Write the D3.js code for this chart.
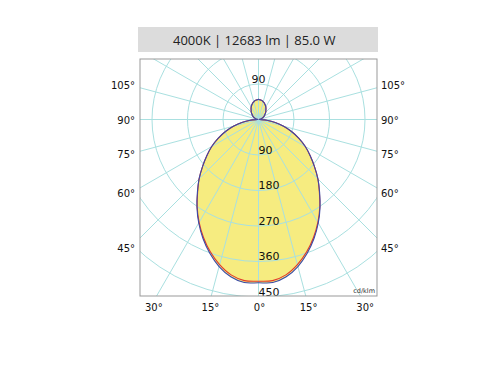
<!DOCTYPE html>
<html>
<head>
<meta charset="utf-8">
<script src="https://cdn.jsdelivr.net/npm/d3@7"></script>
<style>
  body { margin: 0; background: #fff; }
  svg { display: block; }
</style>
</head>
<body>
<div id="chart"></div>
<script>
// photometric data, gamma in degrees from nadir, intensity in cd/klm
const title = '4000K | 12683 lm | 85.0 W';
const gammas = d3.range(0, 181, 5);
const c0c180 = [410, 410, 400, 381, 357, 330, 301, 271, 240, 213, 185, 160, 137, 113, 89, 66, 43, 21, 3,
  2, 5, 7.5, 10, 13, 16, 19, 22, 26, 29, 33, 37, 40.5, 44, 46.5, 49, 50, 51];
const c90c270 = [414, 415, 405, 386, 361, 333, 303, 272, 241, 213, 185, 160, 137, 113, 89, 66, 43, 21, 3,
  2, 5, 7.5, 10, 13, 16, 19, 22, 26, 29, 33, 37, 40.5, 44, 46.5, 49, 50, 51];
const ringValues = [90, 180, 270, 360, 450, 540, 630];
const ringLabels = [90, 180, 270, 360, 450];
const spokeAngles = d3.range(0, 360, 15);
const sideLabels = [105, 90, 75, 60, 45];
const bottomLabels = [-30, -15, 0, 15, 30];

const width = 500, height = 370;
const frame = { x: 140, y: 59, w: 237, h: 237 };
const cx = frame.x + frame.w / 2;
const cy = frame.y + 60.5;

const svg = d3.select('#chart').append('svg')
  .attr('width', width)
  .attr('height', height);

// title bar
svg.append('rect')
  .attr('x', 138).attr('y', 27)
  .attr('width', 240).attr('height', 25)
  .attr('fill', '#dcdcdc');
svg.append('text')
  .attr('x', 173).attr('y', 44.5)
  .attr('font-family', 'Open Sans, sans-serif')
  .attr('font-size', 13)
  .attr('fill', '#222')
  .text(title);

const r = d3.scaleLinear().domain([0, 450]).range([0, 177.5]);

svg.append('clipPath').attr('id', 'clip')
  .append('rect')
  .attr('x', frame.x).attr('y', frame.y)
  .attr('width', frame.w).attr('height', frame.h);

const plot = svg.append('g').attr('clip-path', 'url(#clip)');
const g = plot.append('g').attr('transform', `translate(${cx},${cy})`);

// lobes: right half is C0 / C90, left half mirrored
function lobe(values) {
  const pts = [];
  gammas.forEach((gm, i) => pts.push([Math.PI - gm * Math.PI / 180, r(values[i])]));
  for (let i = gammas.length - 2; i > 0; i--) {
    pts.push([Math.PI + gammas[i] * Math.PI / 180, r(values[i])]);
  }
  return pts;
}
const radial = d3.lineRadial().curve(d3.curveCatmullRomClosed.alpha(0.5));

g.append('path').attr('d', radial(lobe(c90c270))).attr('fill', '#f6ec80');
g.append('path').attr('d', radial(lobe(c0c180))).attr('fill', '#f6ec80');

// grid
const gridColor = '#a9e0e0';
g.selectAll('circle.ring')
  .data(ringValues)
  .enter().append('circle')
  .attr('class', 'ring')
  .attr('r', d => r(d))
  .attr('fill', 'none')
  .attr('stroke', gridColor)
  .attr('stroke-width', 1);

g.selectAll('line.spoke')
  .data(spokeAngles)
  .enter().append('line')
  .attr('class', 'spoke')
  .attr('x1', 0).attr('y1', 0)
  .attr('x2', d => Math.sin(d * Math.PI / 180) * r(700))
  .attr('y2', d => Math.cos(d * Math.PI / 180) * r(700))
  .attr('stroke', gridColor)
  .attr('stroke-width', 1);

g.append('path').attr('d', radial(lobe(c0c180)))
  .attr('fill', 'none').attr('stroke', '#e0382c').attr('stroke-width', 1.1);
g.append('path').attr('d', radial(lobe(c90c270)))
  .attr('fill', 'none').attr('stroke', '#3a4aa8').attr('stroke-width', 1.1);

// ring labels
const labelFont = 'DejaVu Sans, sans-serif';
g.selectAll('text.rl')
  .data(ringLabels)
  .enter().append('text')
  .attr('class', 'rl')
  .attr('x', 0)
  .attr('y', d => r(d) - 1.5)
  .attr('text-anchor', 'start')
  .attr('font-family', labelFont)
  .attr('font-size', 11)
  .attr('fill', '#111')
  .text(d => d);
g.append('text')
  .attr('x', 0).attr('y', -r(90) - 1.5)
  .attr('text-anchor', 'middle')
  .attr('font-family', labelFont)
  .attr('font-size', 11)
  .attr('fill', '#111')
  .text(90);

svg.append('rect')
  .attr('x', frame.x).attr('y', frame.y)
  .attr('width', frame.w).attr('height', frame.h)
  .attr('fill', 'none').attr('stroke', '#999').attr('stroke-width', 1);

svg.append('text')
  .attr('x', frame.x + frame.w - 2).attr('y', frame.y + frame.h - 3)
  .attr('text-anchor', 'end')
  .attr('font-family', labelFont)
  .attr('font-size', 6.5)
  .attr('fill', '#333')
  .text('cd/klm');

// angle labels
const sideDx = 128, bottomDy = 183;
[-1, 1].forEach(side => {
  svg.selectAll(null)
    .data(sideLabels)
    .enter().append('text')
    .attr('x', side < 0 ? frame.x - 5 : frame.x + frame.w + 4)
    .attr('y', d => cy + sideDx / Math.tan(d * Math.PI / 180) + 4)
    .attr('text-anchor', side < 0 ? 'end' : 'start')
    .attr('font-family', labelFont)
    .attr('font-size', 10)
    .attr('fill', '#111')
    .text(d => d + '°');
});
svg.selectAll(null)
  .data(bottomLabels)
  .enter().append('text')
  .attr('x', d => cx + bottomDy * Math.tan(d * Math.PI / 180) + 1)
  .attr('y', frame.y + frame.h + 15)
  .attr('text-anchor', 'middle')
  .attr('font-family', labelFont)
  .attr('font-size', 10)
  .attr('fill', '#111')
  .text(d => Math.abs(d) + '°');
</script>
</body>
</html>
